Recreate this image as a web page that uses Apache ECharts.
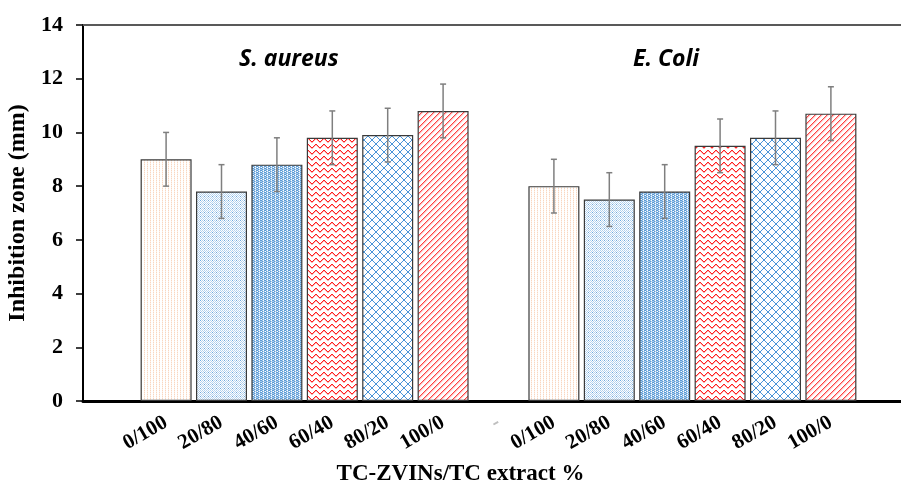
<!DOCTYPE html>
<html>
<head>
<meta charset="utf-8">
<script src="https://cdn.jsdelivr.net/npm/echarts@6/dist/echarts.min.js"></script>
<style>
  html, body { margin: 0; padding: 0; background: #fff; }
  #chart { width: 901px; height: 489px; }
</style>
</head>
<body>
<div id="chart"></div>
<script>
// categories: blank slot, 6 ratios, blank gap, 6 ratios, blank slot
var ratios = ["0/100", "20/80", "40/60", "60/40", "80/20", "100/0"];
var categories = [""].concat(ratios, ["-"], ratios, [""]);

var sAureus = [9.0, 7.8, 8.8, 9.8, 9.9, 10.8];
var sAureusErr = [1.0, 1.0, 1.0, 1.0, 1.0, 1.0];
var eColi = [8.0, 7.5, 7.8, 9.5, 9.8, 10.7];
var eColiErr = [1.0, 1.0, 1.0, 1.0, 1.0, 1.0];

var yTicks = [0, 2, 4, 6, 8, 10, 12, 14];

// small canvas fills that imitate the Excel pattern fills
function pattern(w, h, bg, draw) {
  var c = document.createElement("canvas");
  c.width = w;
  c.height = h;
  var ctx = c.getContext("2d");
  ctx.fillStyle = bg;
  ctx.fillRect(0, 0, w, h);
  draw(ctx);
  return { image: c, repeat: "repeat" };
}
function px(ctx, col, pts) {
  ctx.fillStyle = col;
  for (var i = 0; i < pts.length; i++) ctx.fillRect(pts[i][0], pts[i][1], 1, 1);
}

var fills = [
  // dotted peach, very faint
  pattern(3, 2, "#ffffff", function (ctx) {
    px(ctx, "#f9d6bf", [[0, 0]]);
    px(ctx, "#fdf0e7", [[0, 1]]);
  }),
  // light blue checker
  pattern(4, 4, "#ffffff", function (ctx) {
    px(ctx, "#b4d2ee", [[2, 0], [1, 1], [3, 1], [0, 2], [2, 2], [1, 3], [3, 3]]);
    px(ctx, "#6fa8dc", [[0, 0]]);
  }),
  // medium blue
  pattern(4, 4, "#a9cbec", function (ctx) {
    px(ctx, "#5b9bd5", [[0, 0], [1, 0], [2, 1], [0, 2], [1, 2], [2, 3]]);
    px(ctx, "#ffffff", [[3, 0], [3, 2], [1, 3]]);
  }),
  // red zigzag
  pattern(8, 6, "#ffffff", function (ctx) {
    px(ctx, "#ff2020", [[0, 3], [1, 2], [2, 1], [3, 0], [4, 0], [5, 1], [6, 2], [7, 3]]);
    px(ctx, "#ffb0b0", [[0, 4], [1, 3], [2, 2], [3, 1], [4, 1], [5, 2], [6, 3], [7, 4]]);
  }),
  // blue diamond lattice
  pattern(8, 8, "#ffffff", function (ctx) {
    var pts = [];
    for (var i = 0; i < 8; i++) {
      pts.push([i, i]);
      pts.push([7 - i, i]);
    }
    px(ctx, "#4a94d8", pts);
  }),
  // red diagonal stripes
  pattern(6, 6, "#ffffff", function (ctx) {
    px(ctx, "#ff4040", [[5, 0], [4, 1], [3, 2], [2, 3], [1, 4], [0, 5]]);
    px(ctx, "#ffb8b8", [[0, 0], [5, 1], [4, 2], [3, 3], [2, 4], [1, 5]]);
    px(ctx, "#ffe4e4", [[1, 0], [0, 1], [5, 2], [4, 3], [3, 4], [2, 5]]);
  })
];

// build bar data aligned with categories
var barData = [];
var errData = [];
barData.push("-");
for (var i = 0; i < 6; i++) {
  barData.push({ value: sAureus[i], itemStyle: { color: fills[i] } });
  errData.push([i + 1, sAureus[i] - sAureusErr[i], sAureus[i] + sAureusErr[i]]);
}
barData.push("-");
for (var j = 0; j < 6; j++) {
  barData.push({ value: eColi[j], itemStyle: { color: fills[j] } });
  errData.push([j + 8, eColi[j] - eColiErr[j], eColi[j] + eColiErr[j]]);
}
barData.push("-");

var chart = echarts.init(document.getElementById("chart"));

var serif = "'Liberation Serif', 'Times New Roman', serif";

var option = {
  animation: false,
  backgroundColor: "#ffffff",
  grid: {
    left: 83, top: 25, right: -13, bottom: 88,
    containLabel: false,
    outerBoundsMode: "none"
  },
  graphic: [
    {
      type: "text",
      left: 239,
      top: 48,
      style: {
        text: "S. aureus",
        font: "italic bold 23px 'Open Sans', sans-serif",
        fill: "#000"
      }
    },
    {
      type: "text",
      left: 633,
      top: 48,
      style: {
        text: "E. Coli",
        font: "italic bold 23px 'Open Sans', sans-serif",
        fill: "#000"
      }
    }
  ],
  xAxis: [
    {
      type: "category",
      data: categories,
      position: "bottom",
      axisLine: { lineStyle: { color: "#000", width: 3 } },
      axisTick: { show: false },
      axisLabel: {
        interval: 0,
        rotate: 30,
        margin: 20,
        fontFamily: serif,
        fontWeight: "bold",
        fontSize: 21,
        color: function (val) {
          return val === "-" ? "#bfbfbf" : "#000";
        }
      },
      name: "TC-ZVINs/TC extract %",
      nameLocation: "middle",
      nameGap: 62,
      nameTextStyle: {
        fontFamily: serif,
        fontWeight: "bold",
        fontSize: 23,
        color: "#000",
        padding: [0, 76, 0, 0]
      }
    },
    {
      type: "category",
      data: categories,
      position: "top",
      axisLine: { lineStyle: { color: "#595959", width: 2 } },
      axisTick: { show: false },
      axisLabel: { show: false }
    }
  ],
  yAxis: {
    type: "value",
    min: yTicks[0],
    max: yTicks[yTicks.length - 1],
    interval: 2,
    axisLine: { show: true, lineStyle: { color: "#000", width: 2 } },
    axisTick: { show: true, length: 7, lineStyle: { color: "#000", width: 1.5 } },
    splitLine: { show: false },
    axisLabel: {
      margin: 20,
      fontFamily: serif,
      fontWeight: "bold",
      fontSize: 22,
      color: "#000"
    },
    name: "Inhibition zone (mm)",
    nameLocation: "middle",
    nameGap: 51,
    nameTextStyle: {
      fontFamily: serif,
      fontWeight: "bold",
      fontSize: 24,
      color: "#000"
    }
  },
  series: [
    {
      type: "bar",
      xAxisIndex: 0,
      data: barData,
      barWidth: 51,
      itemStyle: { borderColor: "#3a3a3a", borderWidth: 1.2 }
    },
    {
      type: "custom",
      xAxisIndex: 0,
      data: errData,
      z: 5,
      renderItem: function (params, api) {
        var x = api.value(0);
        var lo = api.coord([x, api.value(1)]);
        var hi = api.coord([x, api.value(2)]);
        var cap = 3;
        var st = { stroke: "#7f7f7f", lineWidth: 1.5 };
        return {
          type: "group",
          children: [
            { type: "line", shape: { x1: lo[0], y1: lo[1], x2: hi[0], y2: hi[1] }, style: st },
            { type: "line", shape: { x1: hi[0] - cap, y1: hi[1], x2: hi[0] + cap, y2: hi[1] }, style: st },
            { type: "line", shape: { x1: lo[0] - cap, y1: lo[1], x2: lo[0] + cap, y2: lo[1] }, style: st }
          ]
        };
      }
    }
  ]
};

chart.setOption(option);
</script>
</body>
</html>
